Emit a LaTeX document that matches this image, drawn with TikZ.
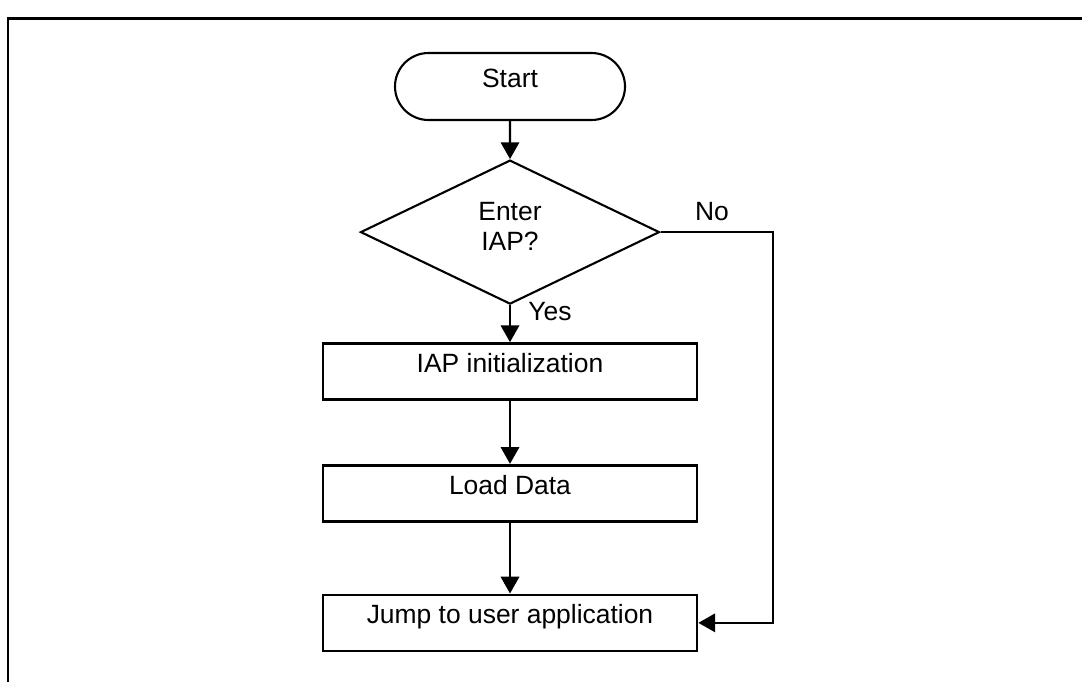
\documentclass[tikz,border=0pt]{standalone}
\usepackage{fontspec}
\setmainfont{Liberation Sans}
\usetikzlibrary{shapes.geometric, shapes.misc, arrows.meta, positioning}

\begin{document}
\begin{tikzpicture}[
  font=\fontsize{18.8}{21.5}\selectfont,
  node distance=1cm,
  terminal/.style={rounded rectangle, draw, line width=1.5pt, minimum width=5.75cm, minimum height=1.675cm, inner sep=0pt, text height=0.5cm, text depth=0.45cm},
  decision/.style={diamond, draw, line width=1.5pt, aspect=2, minimum width=7.475cm, minimum height=3.6cm, inner sep=0pt, align=center, text depth=0.28cm},
  process/.style={rectangle, draw, line width=1.9pt, minimum width=9.35cm, minimum height=1.4cm, inner sep=0pt, text height=0.5cm, text depth=0.45cm},
  lbl/.style={inner sep=0pt},
  arrow/.style={-{Triangle[length=0.42cm, width=0.46cm]}, line width=1.6pt}
]
  \useasboundingbox (0,0) rectangle (27.05,-17.05);
  % figure frame
  \draw[line width=2.1pt] (27.05,-0.4625) -| (0.2,-17.05);

  \node[terminal] (start) at (12.75,-2.1625) {Start};
  \node[decision, below=0.95cm of start] (dec) {Enter\\IAP?};
  \node[process, below=0.925cm of dec] (init) {IAP initialization};
  \node[process, below=1.575cm of init] (load) {Load Data};
  \node[process, below=1.775cm of load] (jump) {Jump to user application};

  \node[lbl] (no) at (17.8,-5.3) {No};
  \node[lbl] (yes) at (13.75,-7.8) {Yes};
  \coordinate (noside) at (19.325,-5.75);

  \draw[arrow] (start) -- (dec);
  \draw[arrow] (dec) -- (init);
  \draw[arrow] (init) -- (load);
  \draw[arrow] (load) -- (jump);
  \draw[arrow] (dec.east) -- (dec.east -| noside) |- (jump.east);
\end{tikzpicture}
\end{document}
